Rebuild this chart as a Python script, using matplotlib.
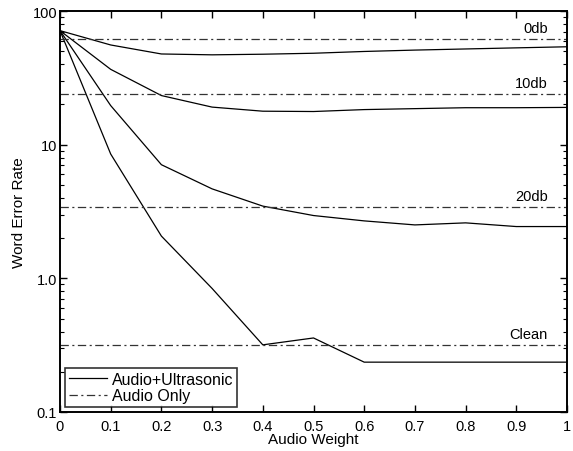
import matplotlib
matplotlib.use('Agg')
import matplotlib.pyplot as plt
from matplotlib.ticker import FixedLocator, LogLocator, NullFormatter

plt.rcParams['font.family'] = ['Liberation Sans', 'DejaVu Sans']
plt.rcParams['lines.scale_dashes'] = False

# Data
audio_weight = [0, 0.1, 0.2, 0.3, 0.4, 0.5, 0.6, 0.7, 0.8, 0.9, 1.0]
wer_0db = [71.3, 55.7, 47.7, 47.0, 47.5, 48.3, 49.8, 51.0, 52.0, 53.0, 54.0]
wer_10db = [71.3, 36.6, 23.3, 19.1, 17.8, 17.7, 18.3, 18.6, 18.9, 18.9, 19.0]
wer_20db = [71.3, 19.6, 7.08, 4.67, 3.47, 2.95, 2.69, 2.51, 2.60, 2.44, 2.44]
wer_clean = [71.3, 8.51, 2.07, 0.84, 0.318, 0.358, 0.236, 0.236, 0.236, 0.236, 0.236]
curves = [wer_0db, wer_10db, wer_20db, wer_clean]

audio_only = [61.7, 24.0, 3.44, 0.316]
noise_labels = ['0db', '10db', '20db', 'Clean']

x_ticks = [0, 0.1, 0.2, 0.3, 0.4, 0.5, 0.6, 0.7, 0.8, 0.9, 1.0]
x_ticklabels = ['0', '0.1', '0.2', '0.3', '0.4', '0.5', '0.6', '0.7', '0.8', '0.9', '1']
y_ticks = [0.1, 1.0, 10, 100]
y_ticklabels = ['0.1', '1.0', '10', '100']

fig = plt.figure(figsize=(5.73, 4.52), dpi=100)
ax = fig.add_axes([60 / 573, 1 - 413 / 452, 507 / 573, 401 / 452])

dashdot = (0, (6, 2.5, 1.5, 2.5))
for i, c in enumerate(curves):
    ax.plot(audio_weight, c, color='black', lw=0.9,
            label='Audio+Ultrasonic' if i == 0 else None)
for i, (v, name) in enumerate(zip(audio_only, noise_labels)):
    ax.axhline(v, color='#333333', lw=0.9, linestyle=dashdot,
               label='Audio Only' if i == 0 else None)
    ax.text(0.962, v * 1.07, name, ha='right', va='bottom', fontsize=10.5)

ax.set_yscale('log')
ax.set_xlim(0, 1)
ax.set_ylim(0.1, 100)
ax.set_xticks(x_ticks)
ax.set_xticklabels(x_ticklabels)
ax.yaxis.set_major_locator(FixedLocator(y_ticks))
ax.set_yticklabels(y_ticklabels)
ax.yaxis.set_minor_locator(LogLocator(base=10, subs=range(2, 10)))
ax.yaxis.set_minor_formatter(NullFormatter())

ax.tick_params(which='both', direction='in', top=True, right=True, labelsize=10.5)
ax.tick_params(which='major', length=5, width=1)
ax.tick_params(which='minor', length=3, width=0.8)
ax.tick_params(axis='x', pad=5)
ax.tick_params(axis='y', pad=2)
for s in ax.spines.values():
    s.set_linewidth(1.4)

ax.set_xlabel('Audio Weight', fontsize=11, labelpad=-1)
ax.set_ylabel('Word Error Rate', fontsize=11, labelpad=5)

leg = ax.legend(loc='lower left', fontsize=11.5, frameon=True, fancybox=False,
                handlelength=2.4, borderpad=0.25, labelspacing=0.1,
                handletextpad=0.3, borderaxespad=0.3)
leg.get_frame().set_edgecolor('black')
leg.get_frame().set_linewidth(1.2)

fig.savefig('out.png', dpi=100)
